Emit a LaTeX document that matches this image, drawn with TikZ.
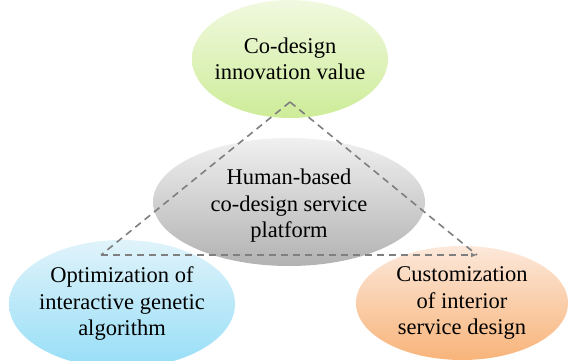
\documentclass[tikz,border=0pt]{standalone}
\usepackage{fontspec}
\setmainfont{Liberation Serif}
\usetikzlibrary{shapes.geometric,arrows.meta}
\definecolor{gtop}{HTML}{F1F9E0}
\definecolor{gbot}{HTML}{CDEC98}
\definecolor{btop}{HTML}{E0F3FA}
\definecolor{bbot}{HTML}{96DEF7}
\definecolor{otop}{HTML}{FCE8DA}
\definecolor{obot}{HTML}{F8B47A}
\definecolor{ctop}{HTML}{F0F0F0}
\definecolor{cbot}{HTML}{B2B2B2}
\definecolor{dashc}{HTML}{7F7F7F}
\tikzset{
  bubble/.style={ellipse, inner sep=0pt},
  btext/.style={align=center, inner sep=0pt, font=\fontsize{22.5}{26.5}\selectfont},
  tri/.style={draw=dashc, line width=1.6pt, dash pattern=on 7pt off 5pt},
}
\begin{document}
\begin{tikzpicture}[x=1pt,y=-1pt]
\useasboundingbox (0,0) rectangle (571,361);
% top ellipse
\node[bubble, minimum width=196pt, minimum height=118pt, top color=gtop, bottom color=gbot] (top) at (290,59) {};
\node[btext] (toptxt) at (top.center) {Co-design\\innovation value};
% left ellipse
\node[bubble, minimum width=226pt, minimum height=128pt, top color=btop, bottom color=bbot] (left) at (122,304) {};
% right ellipse
\node[bubble, minimum width=212pt, minimum height=114pt, top color=otop, bottom color=obot] (right) at (462,303) {};
% center ellipse
\node[bubble, minimum width=272pt, minimum height=128pt, top color=ctop, bottom color=cbot] (mid) at (289,202) {};
\node[btext] (lefttxt) at (left.center) {Optimization of\\interactive genetic\\algorithm};
\node[btext] (righttxt) at (right.center) {Customization\\of interior\\service design};
\node[btext] (midtxt) at ([yshift=-4pt]mid.center) {Human-based\\co-design service\\platform};
% triangle
\coordinate (ta) at (290,102);
\coordinate (la) at (101,255);
\coordinate (ra) at (477,255);
\draw[tri] (ta) -- (la);
\draw[tri] (ta) -- (ra);
\draw[tri, -{Latex[length=6pt,width=5pt]}] (la) -- (ra);
\end{tikzpicture}
\end{document}
